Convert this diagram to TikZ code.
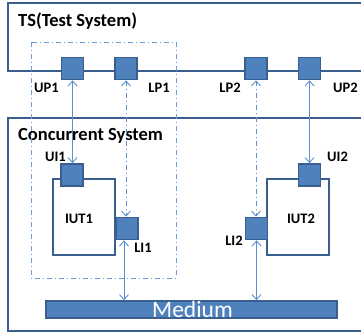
\documentclass[tikz,border=0pt]{standalone}
\usepackage{fontspec}
\setmainfont{Carlito}
\usetikzlibrary{arrows.meta,positioning}
\definecolor{portfill}{HTML}{4F81BD}
\definecolor{portline}{HTML}{3A5F8E}
\definecolor{arrline}{HTML}{5B8FD0}
\definecolor{dotline}{HTML}{6E9EDC}
\begin{document}
\begin{tikzpicture}[x=1pt,y=-1pt,
			frame/.style={portline,line width=2pt},
			port/.style={draw=portline,fill=portfill,line width=1.6pt,
				minimum size=22pt,inner sep=0pt},
			iut/.style={draw=portline,fill=white,line width=1.6pt,
				inner sep=0pt},
			lbl/.style={font=\bfseries\fontsize{14.5}{15}\selectfont,inner sep=0pt},
			conn/.style={arrline,line width=0.9pt,
				{Straight Barb[length=5pt,width=9pt]}-{Straight Barb[length=5pt,width=9pt]}},
			sig/.style={conn,dash pattern=on 5pt off 3pt on 1pt off 3pt}]
			
			\useasboundingbox (0,0) rectangle (361,333);
			
			% Test system and concurrent system frames (open to the right)
			\draw[frame] (361,3) -- (8,3) -- (8,71) -- (361,71);
			\draw[frame] (361,118) -- (8,118) -- (8,331) -- (361,331);
			\node[font=\bfseries\fontsize{18.5}{19}\selectfont,anchor=west,inner sep=0pt] (tsl)
			at (18,21) {TS(Test System)};
			\node[font=\bfseries\fontsize{18.5}{19}\selectfont,anchor=west,inner sep=0pt] (csl)
			at (18,136) {Concurrent System};
			
			% Dash-dotted boundary of the tester for IUT1
			\draw[dotline,line width=0.9pt,
			dash pattern=on 5pt off 3pt on 1pt off 3pt]
			(31,42) rectangle (176,278);
			
			% Implementations under test
			\node[iut,minimum width=62pt,minimum height=76pt] (iut1)
			at (84,217) {};
			\node[iut,minimum width=62pt,minimum height=76pt] (iut2)
			at (298,217) {};
			\node[lbl] at (79,219) {IUT1};
			\node[lbl] at (301,219) {IUT2};
			
			% Ports of the test system
			\foreach \nm/\xx in {UP1/72.5, LP1/126, LP2/256, UP2/309.5} {
				\node[port] (\nm) at (\xx,68.5) {};
			}
			\node[lbl] at (46.5,88) {UP1};
			\node[lbl] at (159,88) {LP1};
			\node[lbl] at (230,88) {LP2};
			\node[lbl] at (345.5,88) {UP2};
			
			% Interfaces of the IUTs
			\node[port] (UI1) at (72,175) {};
			\node[port] (UI2) at (309.5,175) {};
			\node[port] (LI1) at (127,228.5) {};
			\node[port] (LI2) at (256.5,228.5) {};
			\node[lbl] at (55.5,157) {UI1};
			\node[lbl] at (337.5,157) {UI2};
			\node[lbl] at (143,248) {LI1};
			\node[lbl] at (234,241) {LI2};
			
			% Medium
			\node[draw=portline,fill=portfill,line width=1.6pt,inner sep=0pt,
			minimum width=291pt,minimum height=17pt] (Medium) at (191.5,309.5) {};
			\node[white,font=\fontsize{23.5}{24}\selectfont,anchor=base,inner sep=0pt]
			(mtxt) at (192.5,317.5) {Medium};
			
			% Connections
			\draw[conn] (UP1.south) -- (UP1.south |- UI1.north);
			\draw[conn] (UP2.south) -- (UP2.south |- UI2.north);
			\draw[sig] (LP1.south) -- (LP1.south |- LI1.north);
			\draw[sig] (LP2.south) -- (LP2.south |- LI2.north);
			\draw[conn] ([xshift=-3pt]LI1.south) -- ([xshift=-3pt]LI1.south |- Medium.north);
			\draw[conn] (LI2.south) -- (LI2.south |- Medium.north);
			
		\end{tikzpicture}
\end{document}
